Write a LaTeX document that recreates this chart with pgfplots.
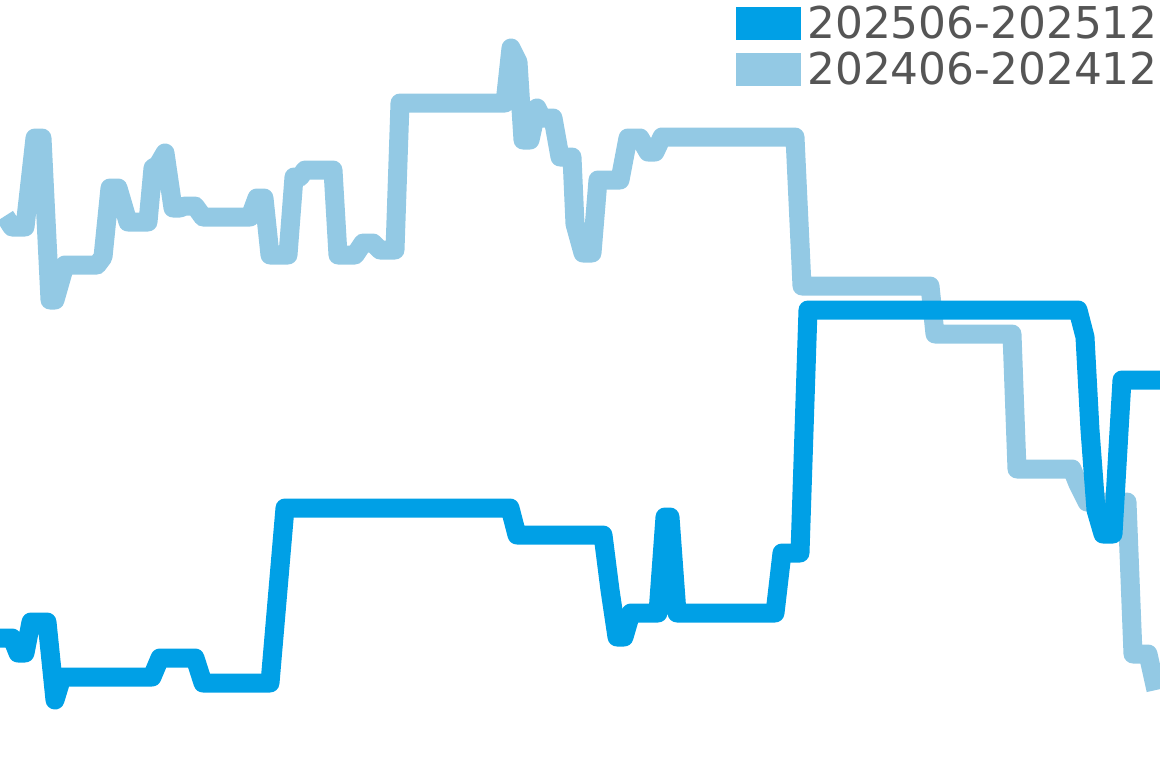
\documentclass[border=0pt]{standalone}
\usepackage{pgfplots}
\pgfplotsset{compat=1.18}
\usepackage{fontspec}
\setmainfont{DejaVu Sans}
\definecolor{NewLine}{HTML}{00A0E6}
\definecolor{OldLine}{HTML}{93C9E4}
\definecolor{LegendText}{HTML}{555555}

\begin{document}
\begin{tikzpicture}
  \begin{axis}[
      anchor=south west, at={(0,0)},
      x=1bp, y=1bp, scale only axis,
      xmin=0, xmax=1160, ymin=0, ymax=768,
      y dir=reverse,
      hide axis, clip=true,
      legend style={
        at={(rel axis cs:1,1)}, anchor=north east,
        draw=none, fill=none,
        font=\fontsize{44}{44}\selectfont,
        text=LegendText,
        inner sep=0pt, row sep=8bp, column sep=5bp,
        cells={anchor=west},
        xshift=0bp, yshift=-4bp,
      },
    ]
    % 202406-202412 (pixel coordinates, y measured from the top)
    \addplot[OldLine, line width=19bp, line join=round, forget plot] coordinates {
      (5,216) (12,227) (25,227) (35,138) (42,138) (50,300) (55,300)
      (65,265) (97,265) (103,257) (110,188) (118,188) (128,222) (148,222)
      (153,168) (158,165) (165,153) (173,208) (180,208) (185,206) (195,206)
      (203,217) (250,217) (257,198) (264,198) (270,255) (288,255) (294,177)
      (300,177) (305,170) (333,170) (338,255) (355,255) (363,243) (373,243)
      (380,250) (395,250) (400,103) (505,103) (511,48) (518,62) (523,140)
      (530,140) (537,108) (542,118) (553,118) (560,157) (572,157) (575,224)
      (583,253) (592,253) (598,180) (620,180) (628,138) (640,138) (648,152)
      (655,152) (662,137) (795,137) (802,286) (930,286) (935,334) (1012,334)
      (1017,469) (1072,469) (1078,484) (1087,502) (1127,502) (1133,654)
      (1148,654) (1156,690)
    };
    % 202506-202512
    \addplot[NewLine, line width=19bp, line join=round, forget plot] coordinates {
      (0,638) (12,638) (18,653) (25,653) (31,622) (47,622) (55,700)
      (62,677) (152,677) (160,658) (195,658) (203,683) (270,683) (285,508)
      (510,508) (517,535) (603,535) (610,590) (617,637) (624,637) (631,613)
      (658,613) (665,517) (670,517) (677,613) (775,613) (782,553) (800,553)
      (808,310) (1078,310) (1085,337) (1090,430) (1096,510) (1103,534)
      (1113,534) (1122,380) (1160,380)
    };
    \addlegendimage{legend image code/.code={\fill[NewLine] (0bp,-16bp) rectangle (64bp,16bp);}}
    \addlegendentry{202506-202512}
    \addlegendimage{legend image code/.code={\fill[OldLine] (0bp,-16bp) rectangle (64bp,16bp);}}
    \addlegendentry{202406-202412}
  \end{axis}
  \pgfresetboundingbox
  \useasboundingbox (0,0) rectangle (1160bp,768bp);
\end{tikzpicture}
\end{document}
